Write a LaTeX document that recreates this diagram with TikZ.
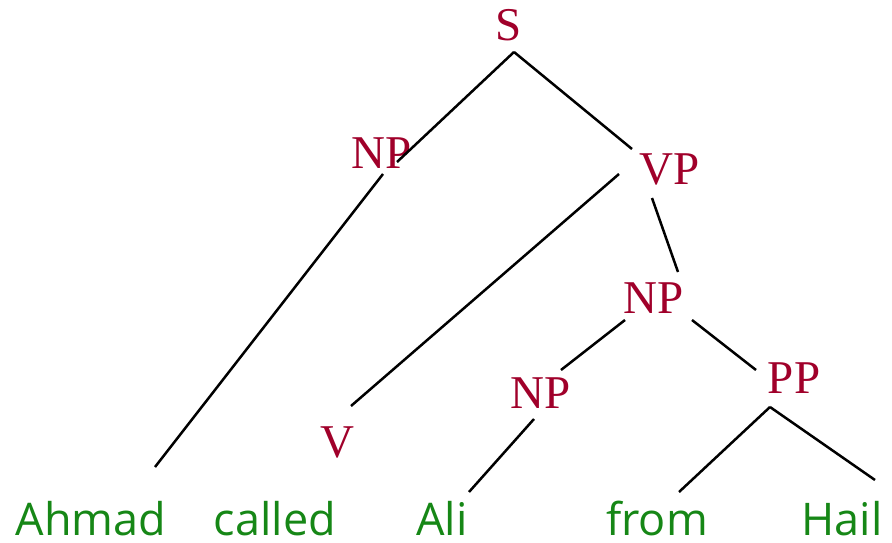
\documentclass[tikz,border=0pt]{standalone}
\usepackage{fontspec}
\setmainfont{Liberation Serif}
\newfontfamily\wordfont{Open Sans}
\definecolor{catred}{RGB}{160,0,42}
\definecolor{wordgreen}{RGB}{22,135,22}
\begin{document}
\begin{tikzpicture}[x=1pt,y=-1pt,
  cat/.style={inner sep=0pt,anchor=base,text=catred,font=\fontsize{47}{50}\selectfont},
  word/.style={inner sep=0pt,anchor=base,text depth=0pt,text=wordgreen,font=\wordfont\fontsize{45}{48}\selectfont},
  branch/.style={draw=black,line width=2.5pt}]
\useasboundingbox (0,0) rectangle (892,543);
% category labels
\node[cat] (S) at (509,41) {S};
\node[cat] (NP1) at (382,168) {NP};
\node[cat] (VP) at (670,184) {VP};
\node[cat] (NP2) at (654,313) {NP};
\node[cat] (NP3) at (541,408) {NP};
\node[cat] (PP) at (794,393) {PP};
\node[cat] (V) at (337,457) {V};
% words
\node[word] (w1) at (91,535) {Ahmad};
\node[word] (w2) at (275,535) {called};
\node[word] (w3) at (442,535) {Ali};
\node[word] (w4) at (657,535) {from};
\node[word] (w5) at (842,535) {Hail};
% connector end points
\coordinate (Sb) at (514,52);
\coordinate (NP1t) at (397,162);
\coordinate (NP1b) at (383,174);
\coordinate (VPt) at (632,149);
\coordinate (VPbl) at (619,174);
\coordinate (VPbr) at (652,198);
\coordinate (NP2t) at (678,272);
\coordinate (NP2bl) at (625,320);
\coordinate (NP2br) at (692,320);
\coordinate (NP3t) at (561,370);
\coordinate (NP3b) at (534,419);
\coordinate (PPt) at (756,370);
\coordinate (PPb) at (770,407);
\coordinate (Vt) at (351,406);
\coordinate (w1t) at (155,467);
\coordinate (w3t) at (469,492);
\coordinate (w4t) at (679,492);
\coordinate (w5t) at (875,480);
% branches
\draw[branch] (Sb) -- (NP1t);
\draw[branch] (Sb) -- (VPt);
\draw[branch] (NP1b) -- (w1t);
\draw[branch] (VPbl) -- (Vt);
\draw[branch] (VPbr) -- (NP2t);
\draw[branch] (NP2bl) -- (NP3t);
\draw[branch] (NP2br) -- (PPt);
\draw[branch] (NP3b) -- (w3t);
\draw[branch] (PPb) -- (w4t);
\draw[branch] (PPb) -- (w5t);
\end{tikzpicture}
\end{document}
